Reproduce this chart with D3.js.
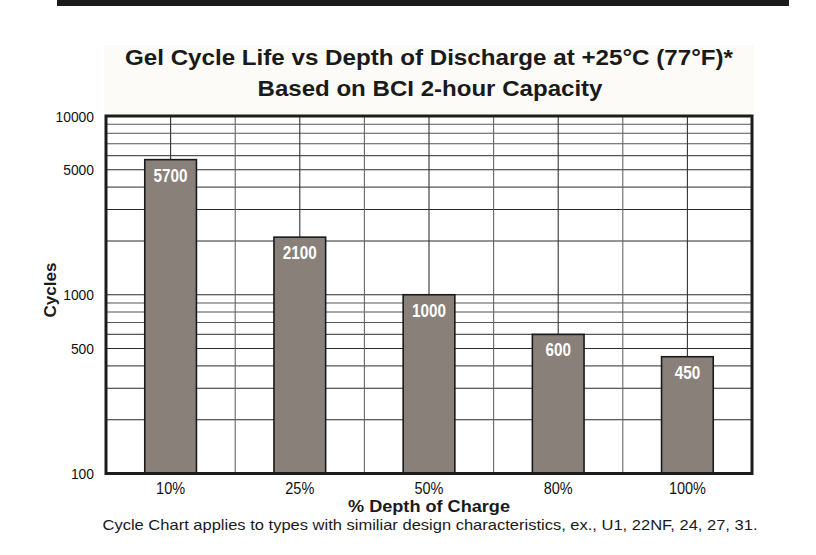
<!DOCTYPE html>
<html>
<head>
<meta charset="utf-8">
<script src="https://cdn.jsdelivr.net/npm/d3@7"></script>
<style>
  html, body { margin: 0; padding: 0; background: #fff; }
  svg { display: block; }
</style>
</head>
<body>
<div id="chart"></div>
<script>
// data
const categories = ['10%', '25%', '50%', '80%', '100%'];
const cycles = [5700, 2100, 1000, 600, 450];
const yTickLabels = [100, 500, 1000, 5000, 10000];
const titleLines = ['Gel Cycle Life vs Depth of Discharge at +25°C (77°F)*', 'Based on BCI 2-hour Capacity'];
const xTitle = '% Depth of Charge';
const yTitle = 'Cycles';
const footNote = 'Cycle Chart applies to types with similiar design characteristics, ex., U1, 22NF, 24, 27, 31.';

const W = 816, H = 555;
const plot = { left: 106, right: 752, top: 116, bottom: 473.5 };
const FONT = "'Liberation Sans', Arial, Helvetica, sans-serif";

const svg = d3.select('#chart').append('svg')
  .attr('width', W).attr('height', H);

// condensed look: fix each text's width to the one in the print
const squeeze = (sel, len) => sel.attr('textLength', len).attr('lengthAdjust', 'spacingAndGlyphs');

// top rule
svg.append('rect').attr('x', 57).attr('y', 0).attr('width', 732).attr('height', 6).attr('fill', '#1b1b1b');

// faint title panel
svg.append('rect').attr('x', 104).attr('y', 45).attr('width', 650).attr('height', 71).attr('fill', '#fcfbf8');

// titles
squeeze(svg.append('text').attr('x', 429).attr('y', 65)
  .attr('text-anchor', 'middle').attr('font-family', FONT).attr('font-weight', 'bold')
  .attr('font-size', 21.5).attr('fill', '#1a1a1a')
  .text(titleLines[0]), 608);
squeeze(svg.append('text').attr('x', 430).attr('y', 96)
  .attr('text-anchor', 'middle').attr('font-family', FONT).attr('font-weight', 'bold')
  .attr('font-size', 21.5).attr('fill', '#1a1a1a')
  .text(titleLines[1]), 345);

const x = d3.scaleBand().domain(categories)
  .range([plot.left, plot.right]).paddingInner(0.6).paddingOuter(0.3);
const y = d3.scaleLog().domain([100, 10000]).range([plot.bottom, plot.top]);

const step = x.step(), bw = x.bandwidth();

// plot background
svg.append('rect').attr('x', plot.left).attr('y', plot.top)
  .attr('width', plot.right - plot.left).attr('height', plot.bottom - plot.top).attr('fill', '#fff');

// horizontal grid
const grid = svg.append('g');
y.ticks().filter(v => v > 100 && v < 10000).forEach(v => {
  const lead = String(v)[0];
  grid.append('line').attr('x1', plot.left).attr('x2', plot.right)
    .attr('y1', y(v)).attr('y2', y(v))
    .attr('stroke', (lead === '1' || lead === '5' || lead === '2' || lead === '3') ? '#2a2a2a' : '#555')
    .attr('stroke-width', 1.1);
});

// vertical grid: band centres and band boundaries
categories.forEach((c, i) => {
  const cx = x(c) + bw / 2;
  grid.append('line').attr('x1', cx).attr('x2', cx).attr('y1', plot.top).attr('y2', plot.bottom)
    .attr('stroke', '#333').attr('stroke-width', 1.1);
  if (i < categories.length - 1) {
    const bx = cx + step / 2;
    grid.append('line').attr('x1', bx).attr('x2', bx).attr('y1', plot.top).attr('y2', plot.bottom)
      .attr('stroke', '#666').attr('stroke-width', 1.1);
  }
});

// bars
svg.append('g').selectAll('rect').data(cycles).enter().append('rect')
  .attr('x', (d, i) => x(categories[i]))
  .attr('y', d => y(d))
  .attr('width', bw)
  .attr('height', d => plot.bottom - y(d))
  .attr('fill', '#888079')
  .attr('stroke', '#1a1a1a').attr('stroke-width', 1.6);

// bar labels
svg.append('g').selectAll('text').data(cycles).enter().append('text')
  .attr('x', (d, i) => x(categories[i]) + bw / 2)
  .attr('y', d => y(d) + 22)
  .attr('text-anchor', 'middle').attr('font-family', FONT).attr('font-weight', 'bold')
  .attr('font-size', 17.5).attr('fill', '#fff')
  .attr('textLength', d => String(d).length * 8.5).attr('lengthAdjust', 'spacingAndGlyphs')
  .text(d => d);

// frame
svg.append('rect').attr('x', plot.left).attr('y', plot.top)
  .attr('width', plot.right - plot.left).attr('height', plot.bottom - plot.top)
  .attr('fill', 'none').attr('stroke', '#1c1c1c').attr('stroke-width', 3);

// y tick labels
svg.append('g').selectAll('text').data(yTickLabels).enter().append('text')
  .attr('x', 94).attr('y', d => y(d) + 5.5)
  .attr('text-anchor', 'end').attr('font-family', FONT).attr('font-size', 15)
  .attr('fill', '#111').attr('textLength', d => String(d).length * 7.7).attr('lengthAdjust', 'spacingAndGlyphs')
  .text(d => d);

// x tick labels
svg.append('g').selectAll('text').data(categories).enter().append('text')
  .attr('x', d => x(d) + bw / 2).attr('y', 493.5)
  .attr('text-anchor', 'middle').attr('font-family', FONT).attr('font-size', 16)
  .attr('fill', '#111')
  .attr('textLength', d => (d.length - 1) * 8 + 13).attr('lengthAdjust', 'spacingAndGlyphs')
  .text(d => d);

// axis titles
squeeze(svg.append('text').attr('x', 429).attr('y', 511.5)
  .attr('text-anchor', 'middle').attr('font-family', FONT).attr('font-weight', 'bold')
  .attr('font-size', 16.5).attr('fill', '#1a1a1a')
  .text(xTitle), 162);
squeeze(svg.append('text').attr('transform', 'translate(56,290) rotate(-90)')
  .attr('text-anchor', 'middle').attr('font-family', FONT).attr('font-weight', 'bold')
  .attr('font-size', 16.5).attr('fill', '#1a1a1a')
  .text(yTitle), 55);

// footnote
squeeze(svg.append('text').attr('x', 430).attr('y', 530)
  .attr('text-anchor', 'middle').attr('font-family', FONT)
  .attr('font-size', 14.5).attr('fill', '#1a1a1a')
  .text(footNote), 655);
</script>
</body>
</html>
